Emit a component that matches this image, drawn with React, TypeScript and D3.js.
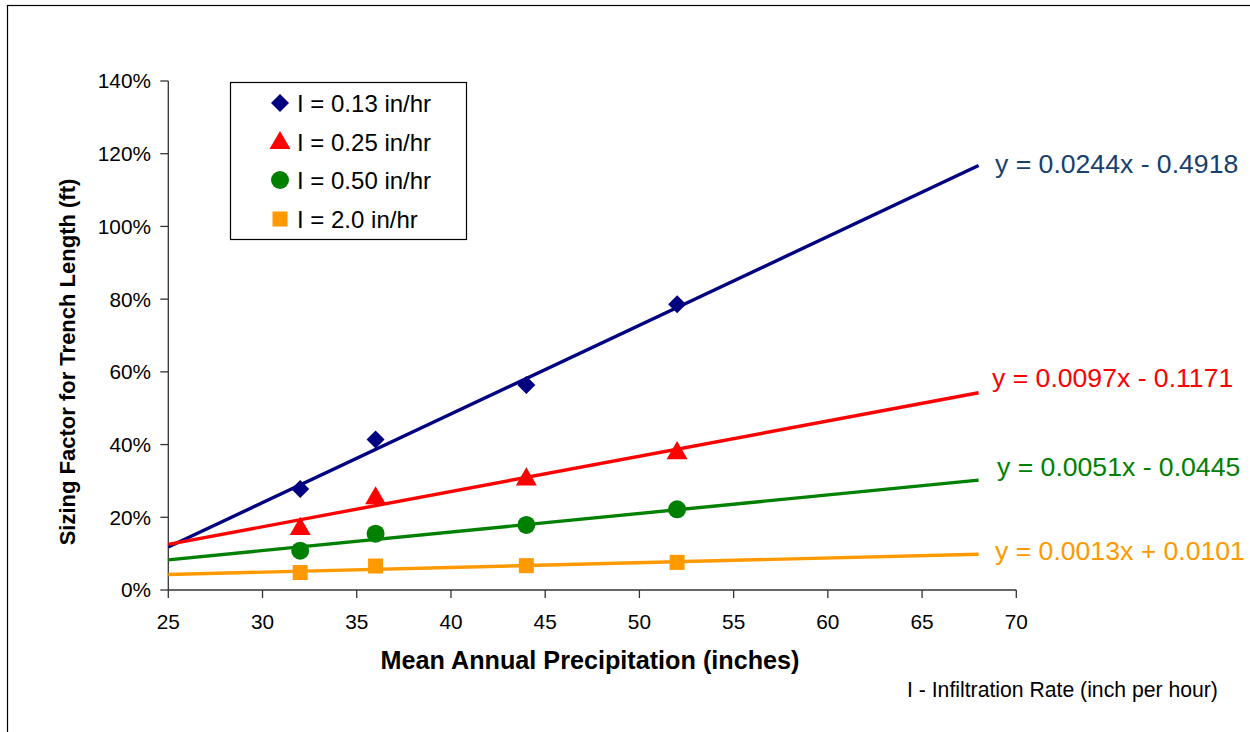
import React from "react";
import * as d3 from "d3";

// Mean annual precipitation (inches) at which each infiltration rate was evaluated
const precipitation = [32, 36, 44, 52];

// Sizing factor (fraction of trench length) per infiltration rate
const factorI013 = [0.278, 0.414, 0.564, 0.786];
const factorI025 = [0.171, 0.255, 0.307, 0.379];
const factorI050 = [0.108, 0.155, 0.179, 0.222];
const factorI200 = [0.048, 0.066, 0.067, 0.076];

// Linear trendline coefficients (slope, intercept)
const trendSlopes = [0.0244, 0.0097, 0.0051, 0.0013];
const trendIntercepts = [-0.4918, -0.1171, -0.0445, 0.0101];
const trendLabels = [
  "y = 0.0244x - 0.4918",
  "y = 0.0097x - 0.1171",
  "y = 0.0051x - 0.0445",
  "y = 0.0013x + 0.0101",
];

const seriesNames = ["I = 0.13 in/hr", "I = 0.25 in/hr", "I = 0.50 in/hr", "I = 2.0 in/hr"];

const xTicks = [25, 30, 35, 40, 45, 50, 55, 60, 65, 70];
const yTicks = [0, 0.2, 0.4, 0.6, 0.8, 1.0, 1.2, 1.4];
const trendRange = [25, 68];

const FONT = "'Liberation Sans', Arial, Helvetica, sans-serif";

type Shape = "diamond" | "triangle" | "circle" | "square";

const series = [
  { name: seriesNames[0], values: factorI013, color: "#000080", labelColor: "#17406E", shape: "diamond" as Shape },
  { name: seriesNames[1], values: factorI025, color: "#FF0000", labelColor: "#FF0000", shape: "triangle" as Shape },
  { name: seriesNames[2], values: factorI050, color: "#008000", labelColor: "#008000", shape: "circle" as Shape },
  { name: seriesNames[3], values: factorI200, color: "#FF9900", labelColor: "#FF9900", shape: "square" as Shape },
];

// Equation label anchors (left edge, vertical centre)
const labelPos = [
  [995, 163],
  [992, 377],
  [997, 466],
  [995, 550],
];

function Marker({ shape, x, y, color }: { shape: Shape; x: number; y: number; color: string }) {
  if (shape === "diamond") {
    const r = 9;
    return <path d={`M${x},${y - r}L${x + r},${y}L${x},${y + r}L${x - r},${y}Z`} fill={color} />;
  }
  if (shape === "triangle") {
    const p = d3.symbol(d3.symbolTriangle, 190)();
    return <path d={p || ""} transform={`translate(${x},${y + 1})`} fill={color} />;
  }
  if (shape === "circle") {
    return <circle cx={x} cy={y} r={9} fill={color} />;
  }
  return <rect x={x - 7.5} y={y - 7.5} width={15} height={15} fill={color} />;
}

export default function App() {
  const width = 1250;
  const height = 732;
  const x = d3.scaleLinear().domain([25, 70]).range([168.3, 1016.3]);
  const y = d3.scaleLinear().domain([0, 1.4]).range([590, 81]);
  const axisColor = "#333";

  const trendLine = (i: number) =>
    d3
      .line<number>()
      .x((d) => x(d))
      .y((d) => y(trendSlopes[i] * d + trendIntercepts[i]))(trendRange) || "";

  const legendRows = [103, 142, 180, 219];

  return (
    <svg
      width={width}
      height={height}
      style={{ position: "absolute", left: 0, top: 0, background: "#fff" }}
      fontFamily={FONT}
    >
      <rect x={7.5} y={5.5} width={1300} height={800} fill="#fff" stroke="#000" strokeWidth={1.2} />

      {/* axes */}
      <line x1={x(25)} x2={x(25)} y1={y(1.4)} y2={y(0)} stroke={axisColor} strokeWidth={1.3} />
      <line x1={x(25)} x2={x(70)} y1={y(0)} y2={y(0)} stroke={axisColor} strokeWidth={1.3} />
      {yTicks.map((t) => (
        <g key={`y${t}`}>
          <line x1={x(25) - 8} x2={x(25)} y1={y(t)} y2={y(t)} stroke={axisColor} strokeWidth={1.3} />
          <text x={151} y={y(t)} dy="0.36em" textAnchor="end" fontSize={20.8} fill="#000">
            {d3.format(".0%")(t)}
          </text>
        </g>
      ))}
      {xTicks.map((t) => (
        <g key={`x${t}`}>
          <line x1={x(t)} x2={x(t)} y1={y(0)} y2={y(0) + 8} stroke={axisColor} strokeWidth={1.3} />
          <text x={x(t)} y={622} dy="0.36em" textAnchor="middle" fontSize={20.8} fill="#000">
            {t}
          </text>
        </g>
      ))}

      {/* axis titles */}
      <text x={590} y={660} dy="0.36em" textAnchor="middle" fontSize={25.2} fontWeight="bold" fill="#000">
        Mean Annual Precipitation (inches)
      </text>
      <text
        transform={`translate(67,362) rotate(-90)`}
        dy="0.36em"
        textAnchor="middle"
        fontSize={22}
        fontWeight="bold"
        fill="#000"
      >
        Sizing Factor for Trench Length (ft)
      </text>

      {/* trendlines */}
      {series.map((s, i) => (
        <path key={`t${i}`} d={trendLine(i)} fill="none" stroke={s.color} strokeWidth={3.4} />
      ))}

      {/* data markers */}
      {series.map((s, i) =>
        s.values.map((v, j) => (
          <Marker key={`m${i}-${j}`} shape={s.shape} x={x(precipitation[j])} y={y(v)} color={s.color} />
        ))
      )}

      {/* trendline equations */}
      {series.map((s, i) => (
        <text
          key={`e${i}`}
          x={labelPos[i][0]}
          y={labelPos[i][1]}
          dy="0.36em"
          fontSize={26.6}
          fill={s.labelColor}
        >
          {trendLabels[i]}
        </text>
      ))}

      {/* legend */}
      <rect x={230.5} y={82.5} width={236} height={157} fill="#fff" stroke="#000" strokeWidth={1.2} />
      {series.map((s, i) => (
        <g key={`l${i}`}>
          <Marker shape={s.shape} x={280} y={legendRows[i]} color={s.color} />
          <text x={297} y={legendRows[i]} dy="0.36em" fontSize={24} fill="#000">
            {s.name}
          </text>
        </g>
      ))}

      <text x={907} y={689} dy="0.36em" fontSize={21.2} fill="#000">
        I - Infiltration Rate (inch per hour)
      </text>
    </svg>
  );
}
